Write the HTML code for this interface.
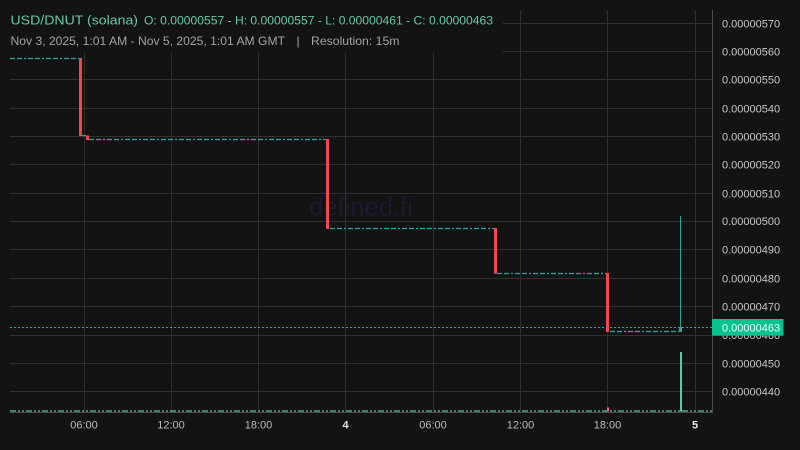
<!DOCTYPE html>
<html><head><meta charset="utf-8"><style>
html,body{margin:0;padding:0;background:#131313;}
svg{display:block;}
text{font-family:"Liberation Sans",sans-serif;}
</style></head><body>
<svg width="800" height="450" viewBox="0 0 800 450" xmlns="http://www.w3.org/2000/svg">
<rect x="0" y="0" width="800" height="450" fill="#131313"/>
<!-- horizontal grid -->
<g stroke="#2f2f2f" stroke-width="1">
<line x1="10" y1="23.5" x2="712" y2="23.5"/>
<line x1="10" y1="51.5" x2="712" y2="51.5"/>
<line x1="10" y1="79.5" x2="712" y2="79.5"/>
<line x1="10" y1="108.5" x2="712" y2="108.5"/>
<line x1="10" y1="136.5" x2="712" y2="136.5"/>
<line x1="10" y1="164.5" x2="712" y2="164.5"/>
<line x1="10" y1="193.5" x2="712" y2="193.5"/>
<line x1="10" y1="221.5" x2="712" y2="221.5"/>
<line x1="10" y1="249.5" x2="712" y2="249.5"/>
<line x1="10" y1="278.5" x2="712" y2="278.5"/>
<line x1="10" y1="306.5" x2="712" y2="306.5"/>
<line x1="10" y1="335.5" x2="712" y2="335.5"/>
<line x1="10" y1="363.5" x2="712" y2="363.5"/>
<line x1="10" y1="391.5" x2="712" y2="391.5"/>
<!-- vertical grid -->
<line x1="84.5" y1="10" x2="84.5" y2="412"/>
<line x1="171.5" y1="10" x2="171.5" y2="412"/>
<line x1="258.5" y1="10" x2="258.5" y2="412"/>
<line x1="345.5" y1="10" x2="345.5" y2="412"/>
<line x1="433.5" y1="10" x2="433.5" y2="412"/>
<line x1="520.5" y1="10" x2="520.5" y2="412"/>
<line x1="607.5" y1="10" x2="607.5" y2="412"/>
<line x1="695.5" y1="10" x2="695.5" y2="412"/>
</g>
<!-- header box covering grid -->
<rect x="0" y="0" width="503" height="53" fill="#131313"/>
<!-- watermark -->
<text x="309" y="215.5" font-size="26" fill="#1c1a31" textLength="104" lengthAdjust="spacingAndGlyphs">defined.fi</text>
<!-- axes -->
<line x1="712.5" y1="10" x2="712.5" y2="413" stroke="#4b4b4b" stroke-width="1"/>
<line x1="10" y1="412.5" x2="713" y2="412.5" stroke="#4b4b4b" stroke-width="1"/>

<!-- candle flat segments -->
<g stroke="#26a69a" stroke-width="1.3" stroke-dasharray="5 2 5 2 2 2" fill="none">
<line x1="10" y1="58.5" x2="79" y2="58.5"/>
<line x1="89" y1="139.5" x2="326" y2="139.5"/>
<line x1="330" y1="228.5" x2="494" y2="228.5"/>
<line x1="497" y1="273.5" x2="606" y2="273.5"/>
<line x1="610" y1="331.5" x2="679" y2="331.5"/>
</g>
<line x1="82" y1="135.5" x2="86" y2="135.5" stroke="#26a69a" stroke-width="1.3"/>
<!-- red candles -->
<g fill="#f0484d">
<rect x="79" y="58" width="3" height="78"/>
<rect x="86" y="135.5" width="3" height="4.5"/>
<rect x="326" y="139" width="3" height="90"/>
<rect x="494" y="228" width="3" height="45.7"/>
<rect x="606" y="273" width="3" height="59"/>
</g>
<!-- last candle -->
<line x1="680.5" y1="216" x2="680.5" y2="332" stroke="#26a69a" stroke-width="1"/>
<rect x="679" y="327" width="3" height="5" fill="#26a69a"/>

<!-- price line -->
<line x1="10" y1="327.5" x2="712" y2="327.5" stroke="#26a69a" stroke-width="1" stroke-dasharray="2 2"/>

<!-- volume -->
<line x1="10" y1="411" x2="712" y2="411" stroke="#5ec4a4" stroke-width="1.3" stroke-dasharray="6 2 2 2 2 2"/>
<rect x="607" y="407.5" width="2" height="4" fill="#f06078"/>
<rect x="680" y="352" width="2" height="59.5" fill="#5ec8a8"/>

<!-- y axis labels -->
<g font-size="11" fill="#c8c8c8">
<text x="722" y="27.3">0.00000570</text>
<text x="722" y="55.3">0.00000560</text>
<text x="722" y="83.3">0.00000550</text>
<text x="722" y="112.3">0.00000540</text>
<text x="722" y="140.3">0.00000530</text>
<text x="722" y="168.3">0.00000520</text>
<text x="722" y="197.3">0.00000510</text>
<text x="722" y="225">0.00000500</text>
<text x="722" y="253.3">0.00000490</text>
<text x="722" y="282.3">0.00000480</text>
<text x="722" y="310.7">0.00000470</text>
<text x="722" y="339">0.00000460</text>
<text x="722" y="367.3">0.00000450</text>
<text x="722" y="395.7">0.00000440</text>
</g>
<!-- price label -->
<rect x="712" y="319" width="71.5" height="16.7" fill="#08c28e"/>
<text x="722" y="331.5" font-size="11" fill="#eafff7">0.00000463</text>

<!-- x axis labels -->
<g font-size="11" fill="#bdbdbd" text-anchor="middle">
<text x="84" y="428.5">06:00</text>
<text x="171" y="428.5">12:00</text>
<text x="258.5" y="428.5">18:00</text>
<text x="345.5" y="428.5" font-weight="bold" fill="#e6e6e6">4</text>
<text x="433" y="428.5">06:00</text>
<text x="520.5" y="428.5">12:00</text>
<text x="607.5" y="428.5">18:00</text>
<text x="695" y="428.5" font-weight="bold" fill="#e6e6e6">5</text>
</g>

<!-- header -->
<text x="10.5" y="24.5" font-size="13" fill="#63c9a6" textLength="127.5" lengthAdjust="spacingAndGlyphs">USD/DNUT (solana)</text>
<text x="144" y="24.5" font-size="12" fill="#63c9a6" textLength="349" lengthAdjust="spacingAndGlyphs">O: 0.00000557 - H: 0.00000557 - L: 0.00000461 - C: 0.00000463</text>
<text x="10.5" y="45" font-size="12" fill="#a3a3a3" textLength="274.5" lengthAdjust="spacingAndGlyphs">Nov 3, 2025, 1:01 AM - Nov 5, 2025, 1:01 AM GMT</text>
<text x="296.5" y="45" font-size="12" fill="#a3a3a3">|</text>
<text x="311" y="45" font-size="12" fill="#a3a3a3" textLength="88.5" lengthAdjust="spacingAndGlyphs">Resolution: 15m</text>
</svg>
</body></html>
